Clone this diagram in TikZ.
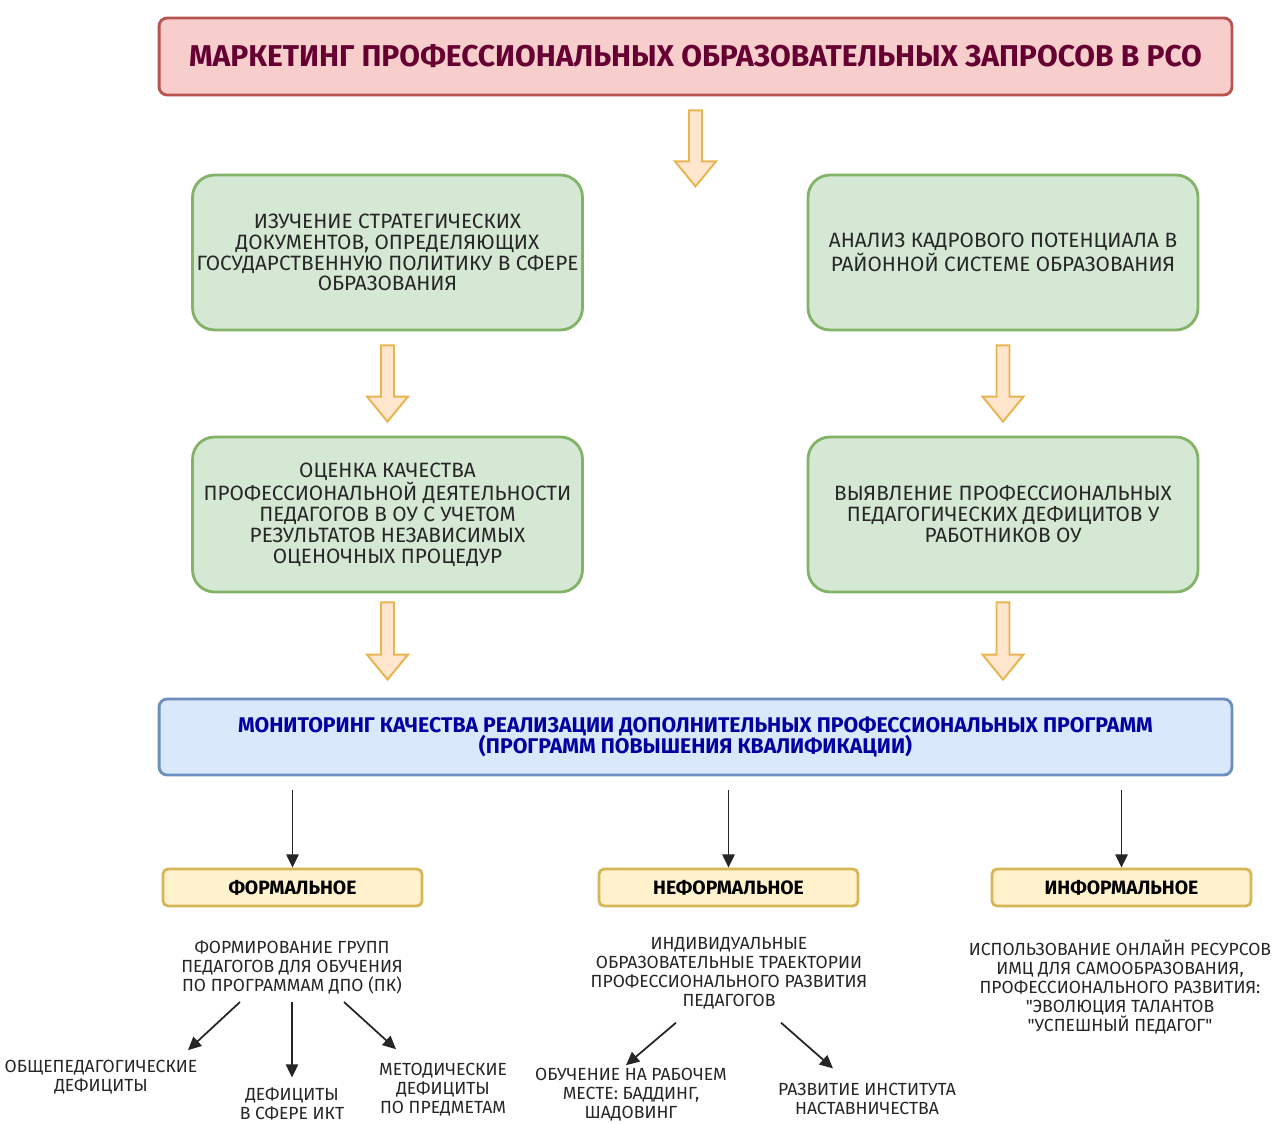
\documentclass[tikz,border=0pt]{standalone}
\usepackage{fontspec}
\setmainfont{Fira Sans}
\usepackage{tikz}
\usetikzlibrary{arrows.meta, calc}

\definecolor{pinkfill}{HTML}{F8CECC}
\definecolor{pinkline}{HTML}{B85450}
\definecolor{titletext}{HTML}{660033}
\definecolor{greenfill}{HTML}{D5E8D4}
\definecolor{greenline}{HTML}{82B366}
\definecolor{bluefill}{HTML}{DAE8FC}
\definecolor{blueline}{HTML}{6C8EBF}
\definecolor{bluetext}{HTML}{0000A0}
\definecolor{yellowfill}{HTML}{FFF2CC}
\definecolor{yellowline}{HTML}{D6B656}
\definecolor{arrowfill}{HTML}{FFE6CC}
\definecolor{arrowline}{HTML}{E8B450}

% wide block arrow from #1 (tail) down to #2 (tip)
\newcommand{\blockarrow}[2]{%
  \draw[bigarrow] ($(#1)+(-6.5,0)$) -- ($(#2)+(-6.5,-25)$) -- ($(#2)+(-20.5,-25)$) -- (#2)
    -- ($(#2)+(20.5,-25)$) -- ($(#2)+(6.5,-25)$) -- ($(#1)+(6.5,0)$) -- cycle;}

\begin{document}
\begin{tikzpicture}[x=0.02cm, y=-0.02cm,
    box/.style={draw, line width=1.6pt, align=center, inner sep=2pt},
    titlebox/.style={box, fill=pinkfill, draw=pinkline, rounded corners=0.16cm,
      minimum width=21.46cm, minimum height=1.54cm, text=titletext,
      font=\bfseries\fontsize{17.1}{18}\selectfont},
    stagebox/.style={box, fill=greenfill, draw=greenline, rounded corners=0.44cm,
      minimum width=7.8cm, minimum height=3.1cm, text=black!85,
      font=\fontsize{11.8}{11.9}\selectfont},
    monitbox/.style={box, fill=bluefill, draw=blueline, rounded corners=0.16cm,
      minimum width=21.46cm, minimum height=1.52cm, text=bluetext,
      font=\bfseries\fontsize{12.1}{12.5}\selectfont},
    formbox/.style={box, fill=yellowfill, draw=yellowline, rounded corners=0.1cm,
      minimum width=5.18cm, minimum height=0.74cm,
      font=\bfseries\fontsize{11}{12}\selectfont},
    note/.style={align=center, inner sep=0pt, text=black!85,
      font=\fontsize{10}{10.8}\selectfont},
    bigarrow/.style={draw=arrowline, fill=arrowfill, line width=1.1pt, line join=miter},
    thinarrow/.style={draw=black!85, line width=1pt, -{Triangle[length=7.5pt, width=7pt]}}
  ]
    \clip (0,0) rectangle (1274,1124);
    \fill[white] (0,0) rectangle (1274,1124);

    % Title
    \node[titlebox] (title) at (695.5,56.5) {МАРКЕТИНГ ПРОФЕССИОНАЛЬНЫХ ОБРАЗОВАТЕЛЬНЫХ ЗАПРОСОВ В РСО};

    % Two columns of stages
    \node[stagebox] (izuch) at (387.5,252.5) {ИЗУЧЕНИЕ СТРАТЕГИЧЕСКИХ\\ДОКУМЕНТОВ, ОПРЕДЕЛЯЮЩИХ\\ГОСУДАРСТВЕННУЮ ПОЛИТИКУ В СФЕРЕ\\ОБРАЗОВАНИЯ};
    \node[stagebox] (analiz) at (1003,252.5) {АНАЛИЗ КАДРОВОГО ПОТЕНЦИАЛА В\\РАЙОННОЙ СИСТЕМЕ ОБРАЗОВАНИЯ};
    \node[stagebox] (otsenka) at (387.5,514.5) {ОЦЕНКА КАЧЕСТВА\\ПРОФЕССИОНАЛЬНОЙ ДЕЯТЕЛЬНОСТИ\\ПЕДАГОГОВ В ОУ С УЧЕТОМ\\РЕЗУЛЬТАТОВ НЕЗАВИСИМЫХ\\ОЦЕНОЧНЫХ ПРОЦЕДУР};
    \node[stagebox] (vyjavl) at (1003,514.5) {ВЫЯВЛЕНИЕ ПРОФЕССИОНАЛЬНЫХ\\ПЕДАГОГИЧЕСКИХ ДЕФИЦИТОВ У\\РАБОТНИКОВ ОУ};

    % Monitoring
    \node[monitbox] (monit) at (695.5,737) {МОНИТОРИНГ КАЧЕСТВА РЕАЛИЗАЦИИ ДОПОЛНИТЕЛЬНЫХ ПРОФЕССИОНАЛЬНЫХ ПРОГРАММ\\(ПРОГРАММ ПОВЫШЕНИЯ КВАЛИФИКАЦИИ)};

    % Block arrows
    \coordinate (t0) at ($(title.south)+(0,14)$);
    \coordinate (h0) at ($(title.south)+(0,90)$);
    \blockarrow{t0}{h0}
    \coordinate (t1) at ($(izuch.south)+(0,14)$);
    \coordinate (h1) at ($(otsenka.north)+(0,-14)$);
    \blockarrow{t1}{h1}
    \coordinate (t2) at ($(analiz.south)+(0,14)$);
    \coordinate (h2) at ($(vyjavl.north)+(0,-14)$);
    \blockarrow{t2}{h2}
    \coordinate (t3) at ($(otsenka.south)+(0,9)$);
    \coordinate (h3) at ($(otsenka.south |- monit.north)+(0,-18)$);
    \blockarrow{t3}{h3}
    \coordinate (t4) at ($(vyjavl.south)+(0,9)$);
    \coordinate (h4) at ($(vyjavl.south |- monit.north)+(0,-18)$);
    \blockarrow{t4}{h4}

    % Forms of learning
    \node[formbox] (formal) at (292.5,887.5) {ФОРМАЛЬНОЕ};
    \node[formbox] (neformal) at (728.5,887.5) {НЕФОРМАЛЬНОЕ};
    \node[formbox] (informal) at (1121.5,887.5) {ИНФОРМАЛЬНОЕ};
    \foreach \f in {formal, neformal, informal}
        \draw[thinarrow] ($(monit.south -| \f.north)+(0,14)$) -- (\f.north);

    % Descriptions
    \node[note] (fdesc) at (292,967) {ФОРМИРОВАНИЕ ГРУПП\\ПЕДАГОГОВ ДЛЯ ОБУЧЕНИЯ\\ПО ПРОГРАММАМ ДПО (ПК)};
    \node[note] (ndesc) at (729,973.5) {ИНДИВИДУАЛЬНЫЕ\\ОБРАЗОВАТЕЛЬНЫЕ ТРАЕКТОРИИ\\ПРОФЕССИОНАЛЬНОГО РАЗВИТИЯ\\ПЕДАГОГОВ};
    \node[note] (idesc) at (1120,987) {ИСПОЛЬЗОВАНИЕ ОНЛАЙН РЕСУРСОВ\\ИМЦ ДЛЯ САМООБРАЗОВАНИЯ,\\ПРОФЕССИОНАЛЬНОГО РАЗВИТИЯ:\\\textquotedbl ЭВОЛЮЦИЯ ТАЛАНТОВ\\\textquotedbl УСПЕШНЫЙ ПЕДАГОГ\textquotedbl};

    % Deficits
    \node[note] (obshch) at (101,1077.5) {ОБЩЕПЕДАГОГИЧЕСКИЕ\\ДЕФИЦИТЫ};
    \node[note] (ikt) at (292,1104) {ДЕФИЦИТЫ\\В СФЕРЕ ИКТ};
    \node[note] (metod) at (443,1090) {МЕТОДИЧЕСКИЕ\\ДЕФИЦИТЫ\\ПО ПРЕДМЕТАМ};
    \draw[thinarrow] ($(fdesc.south)+(-52,8)$) -- ($(obshch.north)+(87,-10)$);
    \draw[thinarrow] ($(fdesc.south)+(0,8)$) -- ($(ikt.north)+(0,-10)$);
    \draw[thinarrow] ($(fdesc.south)+(52,8)$) -- ($(metod.north)+(-47,-14)$);

    % Trajectories
    \node[note] (obuch) at (631,1095) {ОБУЧЕНИЕ НА РАБОЧЕМ\\МЕСТЕ: БАДДИНГ,\\ШАДОВИНГ};
    \node[note] (nastav) at (867,1098.5) {РАЗВИТИЕ ИНСТИТУТА\\НАСТАВНИЧЕСТВА};
    \draw[thinarrow] ($(ndesc.south)+(-53,13)$) -- ($(obuch.north)+(-5,-3)$);
    \draw[thinarrow] ($(ndesc.south)+(52,13)$) -- ($(nastav.north)+(-34,-14)$);
\end{tikzpicture}
\end{document}
